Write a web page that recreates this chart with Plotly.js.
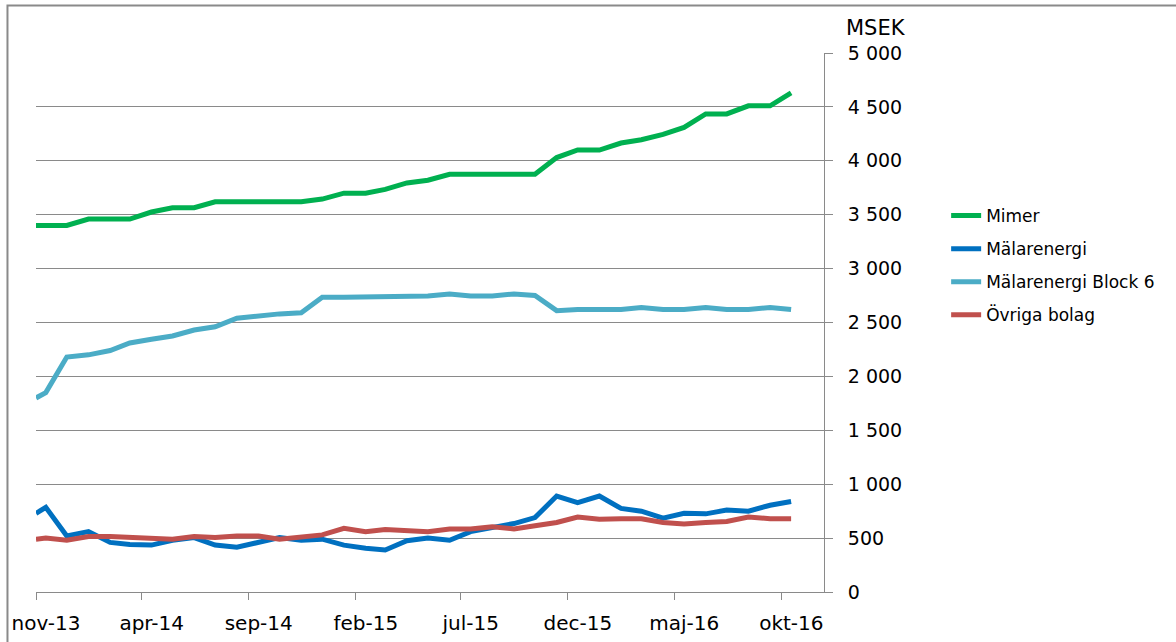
<!DOCTYPE html>
<html>
<head>
<meta charset="utf-8">
<script src="https://cdn.plot.ly/plotly-3.0.1.min.js"></script>
<style>
  html, body { margin: 0; padding: 0; background: #ffffff; }
  #chart { width: 1176px; height: 642px; }
</style>
</head>
<body>
<div id="chart"></div>
<script>
// Dates of observations (first point at start of period, then mid-month)
const dates = [
  "2013-11-01", "2013-11-15", "2013-12-15",
  "2014-01-15", "2014-02-15", "2014-03-15", "2014-04-15", "2014-05-15", "2014-06-15",
  "2014-07-15", "2014-08-15", "2014-09-15", "2014-10-15", "2014-11-15", "2014-12-15",
  "2015-01-15", "2015-02-15", "2015-03-15", "2015-04-15", "2015-05-15", "2015-06-15",
  "2015-07-15", "2015-08-15", "2015-09-15", "2015-10-15", "2015-11-15", "2015-12-15",
  "2016-01-15", "2016-02-15", "2016-03-15", "2016-04-15", "2016-05-15", "2016-06-15",
  "2016-07-15", "2016-08-15", "2016-09-15", "2016-10-15"
];

const mimer = [3400, 3400, 3400, 3460, 3460, 3460, 3525, 3565, 3565, 3620, 3620, 3620, 3620, 3620,
  3645, 3700, 3700, 3735, 3795, 3820, 3875, 3875, 3875, 3875, 3875, 4030, 4100, 4100, 4165, 4195,
  4245, 4310, 4435, 4435, 4510, 4510, 4630];

const malarenergi = [730, 785, 520, 560, 460, 440, 435, 480, 505, 435, 415, 465, 505, 480, 490, 435,
  405, 390, 475, 500, 480, 560, 595, 635, 690, 890, 830, 890, 775, 750, 685, 730, 725, 760, 750, 805, 840];

const block6 = [1800, 1850, 2180, 2200, 2240, 2310, 2345, 2375, 2430, 2460, 2540, 2565, 2580, 2590,
  2735, 2735, 2735, 2745, 2745, 2745, 2765, 2745, 2745, 2765, 2750, 2610, 2620, 2620, 2620, 2640,
  2620, 2620, 2640, 2620, 2620, 2640, 2620];

const ovriga = [490, 500, 480, 515, 515, 505, 505, 490, 515, 505, 520, 520, 490, 515, 530, 590, 560,
  580, 570, 560, 585, 585, 605, 585, 615, 645, 695, 675, 680, 680, 645, 630, 645, 655, 695, 680, 680];

const seriesNames = ["Mimer", "Mälarenergi", "Mälarenergi Block 6", "Övriga bolag"];
const seriesColors = ["#00b050", "#0070c0", "#4bacc6", "#c0504d"];

const xTickVals = ["2013-11-01", "2014-04-01", "2014-09-01", "2015-02-01", "2015-07-01",
  "2015-12-01", "2016-05-01", "2016-10-01"];
const xTickText = ["nov-13", "apr-14", "sep-14", "feb-15", "jul-15", "dec-15", "maj-16", "okt-16"];

const yTickVals = [0, 500, 1000, 1500, 2000, 2500, 3000, 3500, 4000, 4500, 5000];

const allSeries = [mimer, malarenergi, block6, ovriga];
const traces = allSeries.map((vals, i) => ({
  type: "scatter",
  mode: "lines",
  x: dates,
  y: vals,
  name: seriesNames[i],
  legendgroup: "g" + i,
  line: { color: seriesColors[i], width: 5 },
  hoverinfo: "skip"
}));

const FONT = "DejaVu Sans, Verdana, sans-serif";
const GRID = "#8a8a8a";

const layout = {
  width: 1176,
  height: 642,
  margin: { l: 36, r: 352, t: 53, b: 50 },
  paper_bgcolor: "#ffffff",
  plot_bgcolor: "#ffffff",
  separators: ", ",
  font: { family: FONT, color: "#000000" },
  showlegend: true,
  legend: {
    x: 1.155, y: 0.731, xanchor: "left", yanchor: "top",
    font: { family: FONT, size: 17, color: "#000000" },
    tracegroupgap: 8,
    bgcolor: "rgba(0,0,0,0)"
  },
  xaxis: {
    type: "date",
    range: ["2013-11-01", "2016-12-01"],
    tickmode: "array",
    tickvals: xTickVals,
    ticktext: xTickText,
    showgrid: false,
    zeroline: false,
    showline: true,
    linecolor: GRID,
    linewidth: 1,
    ticks: "outside",
    ticklen: 7,
    tickcolor: GRID,
    ticklabelstandoff: 6,
    ticklabelshift: 10,
    tickfont: { family: FONT, size: 20, color: "#000000" },
    fixedrange: true
  },
  yaxis: {
    side: "right",
    range: [0, 5000],
    tickmode: "array",
    tickvals: yTickVals,
    tickformat: ",d",
    showgrid: true,
    gridcolor: GRID,
    gridwidth: 1,
    zeroline: false,
    showline: true,
    linecolor: GRID,
    linewidth: 1,
    ticks: "outside",
    ticklen: 8,
    tickcolor: GRID,
    ticklabelstandoff: 11,
    tickfont: { family: FONT, size: 19, color: "#000000" },
    fixedrange: true
  },
  annotations: [{
    text: "MSEK",
    xref: "paper", yref: "paper",
    x: 1.066, y: 1.046,
    xanchor: "center", yanchor: "middle",
    showarrow: false,
    font: { family: FONT, size: 21, color: "#000000" }
  }],
  shapes: [{
    type: "rect",
    xref: "paper", yref: "paper",
    x0: -0.0362, x1: 1.5, y0: -0.3, y1: 1.0881,
    line: { color: GRID, width: 2 },
    fillcolor: "rgba(0,0,0,0)",
    layer: "below"
  }]
};

Plotly.newPlot("chart", traces, layout, { staticPlot: true, displayModeBar: false });
</script>
</body>
</html>
